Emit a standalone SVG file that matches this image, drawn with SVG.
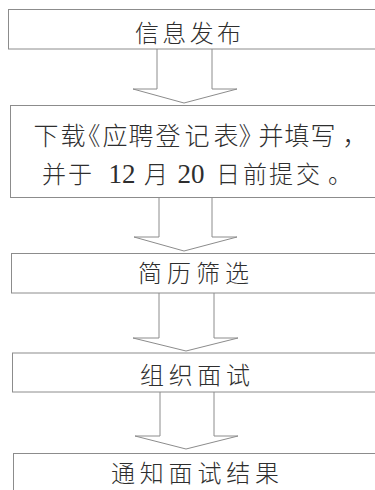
<svg xmlns="http://www.w3.org/2000/svg" width="375" height="490" viewBox="0 0 375 490">
<style>
.box{fill:#fff;stroke:#8c8c8c;stroke-width:1}
.arr{fill:none;stroke:#8c8c8c;stroke-width:1;stroke-linejoin:miter}
.t{font-family:"Noto Sans CJK SC","Noto Sans CJK TC",sans-serif;font-weight:300;fill:#2e2e2e}
.n{font-family:"Liberation Serif",serif;fill:#2e2e2e}
</style>
<rect width="375" height="490" fill="#fff"/>
<g id="connectors">
<polyline class="arr" points="157,49 157,89 133,89 184,103 237,89 212,89 212,49"/>
<polyline class="arr" points="159,197 159,237 134,237 184,251 237,237 212,237 212,197"/>
<polyline class="arr" points="159,293 159,338 133,338 186,351 238,338 214,338 214,293"/>
<polyline class="arr" points="160,392 160,436 135,436 186,449 238,436 214,436 214,392"/>
</g>
<g id="node1">
<rect class="box" x="8.5" y="9.5" width="380" height="39.5"/>
<text class="t" x="135" y="42" font-size="24" textLength="106" lengthAdjust="spacing">信息发布</text>
</g>
<g id="node2">
<rect class="box" x="10.5" y="105.5" width="380" height="92"/>
<text class="t" font-size="25" y="145" text-anchor="middle" x="46 73 88 115 141 168 197 226 251 271 297 323 355">下载《应聘登记表》并填写，</text>
<text class="t" font-size="24" y="183" text-anchor="middle" x="54 80">并于</text>
<text class="n" font-size="27" y="183" x="122" text-anchor="middle">12</text>
<text class="t" font-size="24" y="183" text-anchor="middle" x="156">月</text>
<text class="n" font-size="27" y="183" x="191" text-anchor="middle">20</text>
<text class="t" font-size="24" y="183" text-anchor="middle" x="228 255 281 308 340">日前提交。</text>
</g>
<g id="node3">
<rect class="box" x="11.5" y="253.5" width="380" height="39.5"/>
<text class="t" x="138" y="282" font-size="24" textLength="111" lengthAdjust="spacing">简历筛选</text>
</g>
<g id="node4">
<rect class="box" x="12.5" y="353" width="380" height="39"/>
<text class="t" x="140" y="383.5" font-size="24" textLength="110" lengthAdjust="spacing">组织面试</text>
</g>
<g id="node5">
<rect class="box" x="13.5" y="453.5" width="380" height="60"/>
<text class="t" x="111" y="482" font-size="24" textLength="168" lengthAdjust="spacing">通知面试结果</text>
</g>
</svg>
